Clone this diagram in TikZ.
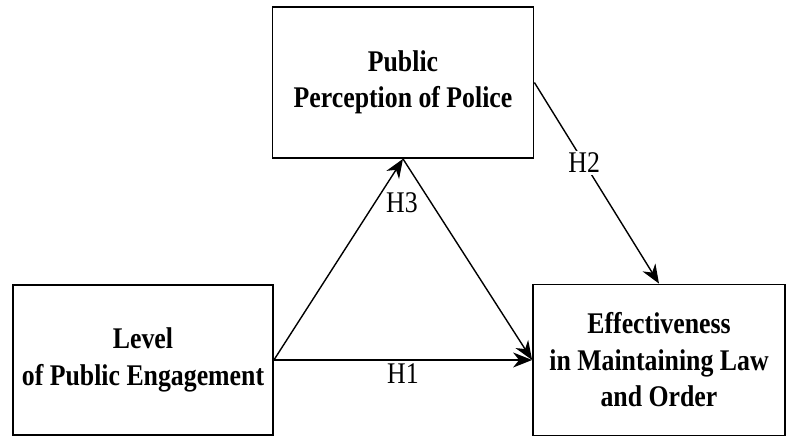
\documentclass[tikz,border=0pt]{standalone}
\usepackage{fontspec}
\setmainfont[FakeStretch=0.86]{Liberation Serif}
\usetikzlibrary{arrows.meta}
\newcommand{\VarFont}{\fontsize{30}{36.5}\selectfont\bfseries}
\newcommand{\HypFont}{\fontsize{30}{32}\selectfont}

\begin{document}
\begin{tikzpicture}[x=1pt,y=-1pt,
  var/.style={draw,line width=1.8pt,align=center,font=\VarFont,inner sep=0pt},
  hyp/.style={-{Stealth[length=19pt,width=15pt,inset=6pt]},line width=1.4pt},
  hlabel/.style={font=\HypFont,inner sep=2pt}]
\useasboundingbox (0,0) rectangle (787,437);
\node[var,minimum width=261pt,minimum height=151pt] (Police) at (403,82.5) {Public\\Perception of Police};
\node[var,minimum width=260pt,minimum height=150pt] (Engage) at (143,360) {Level\\of Public Engagement};
\node[var,minimum width=252pt,minimum height=151pt] (Effect) at (659,360) {Effectiveness\\in Maintaining Law\\and Order};
\node[hlabel] (H3) at (402,203) {H3};

\path[hyp] (Engage.east) edge node[hlabel,below=1pt] {H1} (Effect.west);
\path[hyp] (Engage.east) edge (Police.south);
\path[hyp] (Police.south) edge (Effect.west);
\path[hyp] (Police.east) edge node[hlabel,pos=0.4,fill=white] {H2} (Effect.north);
\end{tikzpicture}
\end{document}
